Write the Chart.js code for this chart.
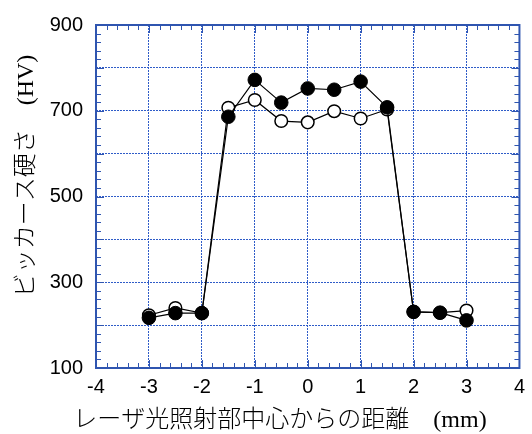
<!DOCTYPE html>
<html>
<head>
<meta charset="utf-8">
<script src="https://cdn.jsdelivr.net/npm/chart.js@4/dist/chart.umd.min.js"></script>
<style>
  html, body { margin: 0; padding: 0; background: #ffffff; }
  #wrap { width: 532px; height: 434px; }
</style>
</head>
<body>
<div id="wrap"><canvas id="c" width="532" height="434"></canvas></div>
<script>
// Distance from the centre of the laser-irradiated zone (mm)
const positions = [-3, -2.5, -2, -1.5, -1, -0.5, 0, 0.5, 1, 1.5, 2, 2.5, 3];
// Vickers hardness, filled-marker series (HV)
const hardnessFilled = [217, 228, 228, 686, 772, 719, 752, 749, 768, 708, 231, 229, 211];
// Vickers hardness, open-marker series (HV)
const hardnessOpen = [223, 240, 228, 707, 725, 676, 673, 699, 682, 703, 231, 229, 234];
// Labelled ticks
const xTickValues = [-4, -3, -2, -1, 0, 1, 2, 3, 4];
const yTickLabels = [100, 300, 500, 700, 900];

const xTitle = 'レーザ光照射部中心からの距離\u3000(mm)';
const yTitle = 'ビッカース硬さ\u3000(HV)';

const BLUE = '#2f55b0';
const GRID_BLUE = '#2f5cc8';

function toPoints(xs, ys) {
  return xs.map((x, i) => ({ x: x, y: ys[i] }));
}

// Axis frame plus inward major/minor ticks on all four sides
const framePlugin = {
  id: 'frame',
  beforeDatasetsDraw(chart) {
    const { ctx, chartArea: a, scales } = chart;
    const xs = scales.x, ys = scales.y;
    ctx.save();
    ctx.strokeStyle = BLUE;
    ctx.lineWidth = 1;
    // x ticks every 0.2, major every 1
    for (let k = -20; k <= 20; k++) {
      const v = k / 5;
      const px = Math.round(xs.getPixelForValue(v)) + 0.5;
      const len = (k % 5 === 0) ? 8 : 5;
      ctx.beginPath();
      ctx.moveTo(px, a.bottom); ctx.lineTo(px, a.bottom - len);
      ctx.moveTo(px, a.top); ctx.lineTo(px, a.top + len);
      ctx.stroke();
    }
    // y ticks every 20, major every 100
    for (let k = 5; k <= 45; k++) {
      const v = k * 20;
      const py = Math.round(ys.getPixelForValue(v)) + 0.5;
      const len = (k % 5 === 0) ? 8 : 5;
      ctx.beginPath();
      ctx.moveTo(a.left, py); ctx.lineTo(a.left + len, py);
      ctx.moveTo(a.right, py); ctx.lineTo(a.right - len, py);
      ctx.stroke();
    }
    ctx.lineWidth = 2;
    ctx.strokeRect(a.left, a.top, a.right - a.left, a.bottom - a.top);
    ctx.restore();
  },
  afterDraw(chart) {
    const { ctx } = chart;
    ctx.save();
    ctx.fillStyle = '#000000';
    ctx.font = "300 24px 'Liberation Serif', 'Noto Sans CJK JP', serif";
    ctx.textAlign = 'center';
    ctx.textBaseline = 'middle';
    ctx.fillText(xTitle, 280, 421);
    ctx.translate(27, 176);
    ctx.rotate(-Math.PI / 2);
    ctx.fillText(yTitle, 0, 0);
    ctx.restore();
  }
};

const tickFont = { family: "'Liberation Sans', Arial, sans-serif", size: 20 };

new Chart(document.getElementById('c'), {
  type: 'scatter',
  data: {
    datasets: [
      {
        data: toPoints(positions, hardnessFilled),
        showLine: true,
        borderColor: '#000000',
        borderWidth: 1.2,
        backgroundColor: '#000000',
        pointBackgroundColor: '#000000',
        pointBorderColor: '#000000',
        pointBorderWidth: 1,
        pointRadius: 6.8,
        fill: false
      },
      {
        data: toPoints(positions, hardnessOpen),
        showLine: true,
        borderColor: '#000000',
        borderWidth: 1.2,
        backgroundColor: '#ffffff',
        pointBackgroundColor: '#ffffff',
        pointBorderColor: '#000000',
        pointBorderWidth: 1.5,
        pointRadius: 6.3,
        fill: false
      }
    ]
  },
  options: {
    responsive: false,
    animation: false,
    events: [],
    layout: { padding: { top: 19, right: 7, left: 0, bottom: 0 } },
    plugins: { legend: { display: false }, tooltip: { enabled: false } },
    scales: {
      x: {
        type: 'linear',
        min: -4,
        max: 4,
        afterFit(scale) { scale.height = 66; },
        afterBuildTicks(scale) { scale.ticks = xTickValues.map(v => ({ value: v })); },
        ticks: {
          font: tickFont,
          color: '#000000',
          padding: 7,
          maxRotation: 0,
          autoSkip: false,
          callback: v => String(v)
        },
        grid: { color: GRID_BLUE, lineWidth: 1, drawTicks: false },
        border: { display: false, dash: [2, 1] }
      },
      y: {
        type: 'linear',
        min: 100,
        max: 900,
        afterFit(scale) { scale.width = 96; },
        ticks: {
          stepSize: 100,
          font: tickFont,
          color: '#000000',
          padding: 13,
          autoSkip: false,
          callback: v => (yTickLabels.includes(v) ? String(v) : '')
        },
        grid: { color: GRID_BLUE, lineWidth: 1, drawTicks: false },
        border: { display: false, dash: [2, 1] }
      }
    }
  },
  plugins: [framePlugin]
});
</script>
</body>
</html>
